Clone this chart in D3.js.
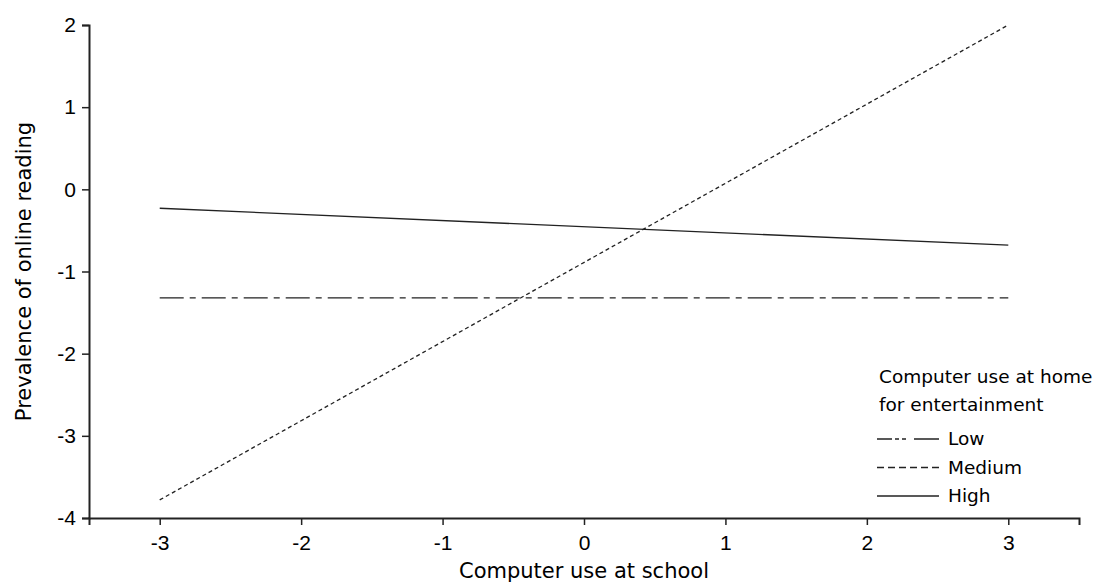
<!DOCTYPE html>
<html>
<head>
<meta charset="utf-8">
<script src="https://cdn.jsdelivr.net/npm/d3@7"></script>
<style>
  body { margin: 0; background: #fff; }
  svg { display: block; font-family: "DejaVu Sans", Verdana, sans-serif; }
</style>
</head>
<body>
<div id="chart"></div>
<script>
// school computer use (x) at the two ends of each line
const xValues = [-3, 3];
const seriesNames = ["Low", "Medium", "High"];
const lowValues = [-1.32, -1.32];
const mediumValues = [-3.78, 2.0];
const highValues = [-0.23, -0.68];
const xTicks = [-3, -2, -1, 0, 1, 2, 3];
const yTicks = [-4, -3, -2, -1, 0, 1, 2];

const width = 1094, height = 584;
const margin = { top: 25, right: 15, bottom: 66, left: 89 };

const series = [
    { name: seriesNames[0], values: lowValues, dash: "24,6,6,6", legendDash: "15,3,4,3,4,8,25" },
    { name: seriesNames[1], values: mediumValues, dash: "4,3", legendDash: "7,4" },
    { name: seriesNames[2], values: highValues, dash: null, legendDash: null }
];

const x = d3.scaleLinear()
    .domain([-3.5, 3.5])
    .range([margin.left, width - margin.right]);

const y = d3.scaleLinear()
    .domain([-4, 2])
    .range([height - margin.bottom, margin.top]);

const svg = d3.select("#chart")
    .append("svg")
    .attr("width", width)
    .attr("height", height);

// axes
const xAxis = svg.append("g")
    .attr("transform", `translate(0,${y(-4)})`)
    .call(d3.axisBottom(x).tickValues(xTicks).tickSizeOuter(0).tickSize(7).tickPadding(10));

const yAxis = svg.append("g")
    .attr("transform", `translate(${margin.left},0)`)
    .call(d3.axisLeft(y).tickValues(yTicks).tickSizeOuter(0).tickSize(7).tickPadding(6));

[xAxis, yAxis].forEach(g => {
    g.select(".domain").attr("stroke", "#222").attr("stroke-width", 2);
    g.selectAll(".tick line").attr("stroke", "#222").attr("stroke-width", 1.5);
    g.selectAll(".tick text")
        .attr("font-size", 21)
        .attr("fill", "#000")
        .text(d => d < 0 ? "-" + Math.abs(d) : d);
});

// axis titles
svg.append("text")
    .attr("x", x(0))
    .attr("y", 578)
    .attr("text-anchor", "middle")
    .attr("font-size", 21)
    .text("Computer use at school");

svg.append("text")
    .attr("transform", `translate(31,${(y(2) + y(-4)) / 2}) rotate(-90)`)
    .attr("text-anchor", "middle")
    .attr("font-size", 21)
    .text("Prevalence of online reading");

// lines
const line = d3.line()
    .x((d, i) => x(xValues[i]))
    .y(d => y(d));

svg.append("g")
    .selectAll("path")
    .data(series)
    .join("path")
    .attr("d", d => line(d.values))
    .attr("fill", "none")
    .attr("stroke", "#222")
    .attr("stroke-width", 1.3)
    .attr("stroke-dasharray", d => d.dash);

// legend
const legend = svg.append("g")
    .attr("transform", "translate(879,0)")
    .attr("font-size", 18.5);

legend.append("text")
    .attr("x", 0).attr("y", 383)
    .text("Computer use at home");
legend.append("text")
    .attr("x", 0).attr("y", 411)
    .text("for entertainment");

const item = legend.selectAll("g.item")
    .data(series)
    .join("g")
    .attr("class", "item")
    .attr("transform", (d, i) => `translate(0,${439 + i * 28.5})`);

item.append("line")
    .attr("x1", -2).attr("x2", 60)
    .attr("stroke", "#222")
    .attr("stroke-width", 1.3)
    .attr("stroke-dasharray", d => d.legendDash);

item.append("text")
    .attr("x", 69)
    .attr("dy", "0.35em")
    .text(d => d.name);
</script>
</body>
</html>
